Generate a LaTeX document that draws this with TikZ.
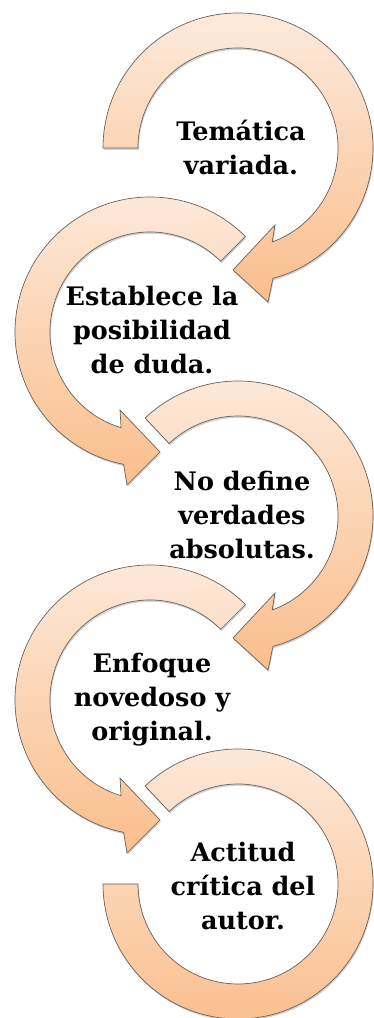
\documentclass[tikz,border=0pt]{standalone}
\usepackage{fontspec}
\setmainfont{DejaVu Serif}
\usetikzlibrary{shadows}
\definecolor{ringtop}{RGB}{253,234,220}
\definecolor{ringbot}{RGB}{250,190,140}
\definecolor{ringline}{RGB}{105,98,92}
\begin{document}
\begin{tikzpicture}[x=1pt,y=1pt,
  ring/.style={draw=ringline, line width=0.7pt, top color=ringtop, bottom color=ringbot,
    drop shadow={shadow xshift=0.8pt, shadow yshift=-1.8pt, opacity=0.35}},
  lbl/.style={font=\bfseries\fontsize{25.5}{34}\selectfont, align=center, text=black, inner sep=0pt}]
\useasboundingbox (0,0) rectangle (373,1018);
\fill[white] (0,0) rectangle (373,1018);

% shape 1 (right)
\begin{scope}[shift={(238,870)}]
\path[ring] (180:135pt) arc[start angle=180,end angle=-75,radius=135pt]
  -- (30,-154) -- (-5,-122) -- (37,-77) -- (-70:100pt)
  arc[start angle=-70,end angle=180,radius=100pt] -- cycle;
\node[lbl] (t1) at (3,1) {Temática\\variada.};
\end{scope}

% shape 2 (left)
\begin{scope}[shift={(150,686)}]
\path[ring] (45:135pt) arc[start angle=45,end angle=258.7,radius=135pt]
  -- (-23,-153) -- (10,-120) -- (-30,-78) -- (253.2:100pt)
  arc[start angle=253.2,end angle=45,radius=100pt] -- cycle;
\node[lbl] (t2) at (2,2) {Establece la\\posibilidad\\de duda.};
\end{scope}

% shape 3 (right)
\begin{scope}[shift={(238,502)}]
\path[ring] (133.5:135pt) arc[start angle=133.5,end angle=-75,radius=135pt]
  -- (30,-154) -- (-5,-122) -- (37,-77) -- (-70:100pt)
  arc[start angle=-70,end angle=133.5,radius=100pt] -- cycle;
\node[lbl] (t3) at (4,1) {No define\\verdades\\absolutas.};
\end{scope}

% shape 4 (left)
\begin{scope}[shift={(150,318)}]
\path[ring] (45:135pt) arc[start angle=45,end angle=258.7,radius=135pt]
  -- (-23,-153) -- (10,-120) -- (-30,-78) -- (253.2:100pt)
  arc[start angle=253.2,end angle=45,radius=100pt] -- cycle;
\node[lbl] (t4) at (2,0) {Enfoque\\novedoso y\\original.};
\end{scope}

% shape 5 (right, no head)
\begin{scope}[shift={(238,134)}]
\path[ring] (133.5:135pt) arc[start angle=133.5,end angle=-180,radius=135pt]
  -- (-180:100pt)
  arc[start angle=-180,end angle=133.5,radius=100pt] -- cycle;
\node[lbl] (t5) at (5,-2) {Actitud\\crítica del\\autor.};
\end{scope}
\end{tikzpicture}
\end{document}
